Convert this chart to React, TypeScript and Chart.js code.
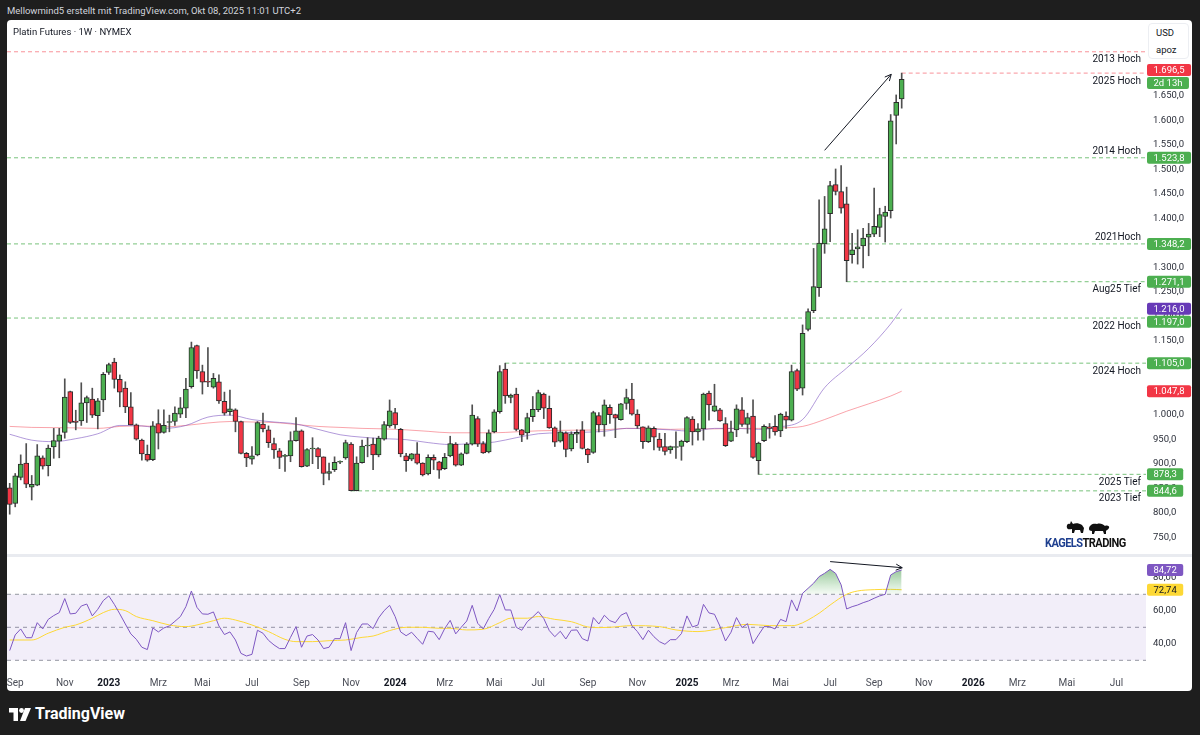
import React, { useEffect, useRef } from 'react';
import { Chart, registerables } from 'chart.js';

Chart.register(...registerables);

const FONT = 'Roboto, "Noto Sans", "Liberation Sans", sans-serif';
Chart.defaults.font.family = FONT;

// ---------- weekly candles (index 0 = week of 29 Aug 2022) ----------
const opens = [
  851, 819, 872, 901, 852, 856, 912, 896, 934, 946,
  964, 1047, 987, 987, 1024, 1032, 998, 1030, 1086, 1107,
  1072, 1054, 1016, 979, 948, 919, 908, 982, 964, 984,
  986, 1001, 1013, 1057, 1141, 1088, 1068, 1056, 1067, 1027,
  1006, 1010, 986, 921, 909, 918, 981, 969, 941, 926,
  915, 916, 947, 967, 895, 930, 931, 914, 880, 888,
  903, 912, 940, 845, 902, 936, 940, 918, 950, 977,
  1004, 970, 916, 909, 920, 901, 879, 913, 904, 890,
  916, 940, 897, 921, 940, 992, 941, 924, 965, 1006,
  1093, 1035, 1042, 969, 963, 996, 1010, 1042, 1013, 973,
  946, 963, 930, 960, 969, 930, 923, 998, 979, 1015,
  1000, 990, 1023, 1032, 1001, 975, 945, 972, 950, 935,
  928, 933, 935, 945, 991, 965, 971, 1044, 1007, 1010,
  982, 946, 969, 1010, 980, 997, 906, 947, 975, 976,
  967, 997, 989, 1090, 1054, 1174, 1212, 1259, 1348, 1410,
  1469, 1455, 1430, 1326, 1338, 1344, 1362, 1368, 1382, 1404,
  1416, 1610, 1644,
];
const highs = [
  860, 880, 918, 941, 876, 939, 916, 938, 972, 972,
  1073, 1048, 1009, 1065, 1038, 1054, 1033, 1086, 1105, 1115,
  1081, 1067, 1045, 981, 950, 938, 986, 1010, 1010, 999,
  1016, 1035, 1074, 1148, 1142, 1101, 1137, 1084, 1081, 1046,
  1050, 1012, 987, 923, 935, 986, 1003, 977, 952, 931,
  919, 965, 994, 969, 931, 953, 933, 914, 901, 914,
  906, 948, 943, 914, 948, 953, 952, 956, 986, 1030,
  1013, 972, 921, 921, 943, 902, 918, 918, 905, 921,
  956, 943, 922, 943, 1020, 996, 945, 969, 1010, 1100,
  1105, 1042, 1054, 970, 1003, 1037, 1050, 1044, 1038, 975,
  987, 965, 965, 969, 986, 931, 1007, 1004, 1030, 1020,
  1001, 1023, 1052, 1064, 1010, 975, 977, 975, 962, 962,
  936, 965, 948, 996, 996, 982, 1044, 1048, 1062, 1013,
  994, 987, 1020, 1035, 1003, 1030, 944, 979, 982, 998,
  1003, 1006, 1101, 1093, 1183, 1216, 1339, 1438, 1445, 1476,
  1501, 1508, 1464, 1370, 1377, 1380, 1390, 1462, 1421, 1425,
  1612, 1652, 1696.5,
];
const lows = [
  797, 812, 867, 851, 826, 855, 889, 875, 911, 912,
  952, 982, 969, 978, 984, 994, 971, 1006, 1082, 1054,
  1016, 1004, 979, 948, 907, 905, 906, 930, 962, 965,
  978, 994, 994, 1054, 1074, 1042, 1057, 1054, 1023, 999,
  999, 965, 920, 894, 899, 916, 965, 933, 911, 890,
  884, 904, 946, 893, 894, 900, 890, 857, 867, 884,
  900, 909, 844.6, 844.6, 901, 914, 888, 914, 948, 974,
  972, 914, 884, 906, 899, 875, 877, 888, 870, 888,
  914, 895, 896, 920, 938, 935, 921, 922, 963, 1003,
  1023, 1024, 967, 945, 950, 986, 1006, 992, 972, 935,
  944, 914, 926, 943, 930, 902, 921, 965, 956, 982,
  953, 989, 1011, 999, 972, 931, 943, 928, 927, 918,
  921, 911, 907, 943, 938, 948, 948, 989, 1006, 986,
  935, 945, 955, 976, 962, 911, 878.3, 945, 952, 958,
  955, 972, 987, 1049, 1040, 1171, 1208, 1241, 1329, 1353,
  1448, 1411, 1271.1, 1309, 1307, 1299, 1324, 1363, 1363, 1352,
  1401, 1552, 1625,
];
const closes = [
  817, 875, 899, 858, 858, 916, 895, 932, 947, 959,
  1036, 984, 984, 1024, 1035, 999, 1028, 1082, 1102, 1072,
  1046, 1016, 979, 950, 920, 907, 977, 962, 978, 985,
  1003, 1014, 1052, 1137, 1089, 1066, 1066, 1074, 1028, 1003,
  1012, 986, 921, 912, 916, 984, 971, 943, 928, 913,
  916, 947, 967, 894, 929, 931, 914, 880, 884, 903,
  904, 943, 845, 901, 936, 937, 918, 952, 980, 1008,
  979, 920, 906, 920, 901, 877, 913, 907, 887, 913,
  941, 897, 920, 940, 999, 940, 922, 963, 1006, 1088,
  1038, 1040, 970, 958, 994, 1011, 1045, 1013, 973, 944,
  965, 929, 961, 964, 931, 918, 1004, 979, 1020, 1000,
  993, 1022, 1035, 1001, 977, 945, 973, 954, 933, 925,
  935, 934, 946, 994, 965, 971, 1042, 1020, 1018, 987,
  937, 965, 1012, 980, 994, 913, 942, 976, 972, 965,
  1001, 989, 1088, 1052, 1166, 1210, 1261, 1350, 1379, 1467,
  1455, 1421, 1314, 1336, 1342, 1360, 1368, 1384, 1408, 1413,
  1599, 1637, 1684,
];

// ---------- moving averages (sampled weeks) ----------
const maWeeks = [0, 4, 8, 12, 16, 20, 24, 28, 32, 36, 40, 44, 48, 52, 56, 60, 64, 68, 72, 76, 80, 84, 88, 92, 96, 100, 104, 108, 112, 116, 120, 124, 128, 132, 136, 140, 144, 148, 152, 156, 160, 162];
const maPurple = [960, 948, 945, 951, 961, 978, 977, 972, 978, 995, 999, 990, 985, 981, 970, 959, 954, 951, 949, 943, 939, 941, 944, 953, 961, 963, 964, 966, 972, 971, 969, 966, 972, 972, 970, 975, 990, 1055, 1095, 1135, 1185, 1216];
const maRed = [976, 974, 973.5, 973, 972, 976, 977, 975, 978, 983, 986, 985, 984, 980, 976, 974, 972, 971, 969, 966, 963, 963, 963, 965, 967, 968, 968.5, 969, 972, 972, 970, 971, 971, 972, 972, 973, 976, 990, 1007, 1022, 1038, 1047.8];

// ---------- RSI ----------
const rsiValues = [
  35.9, 45.4, 49.0, 43.7, 43.7, 52.8, 49.0, 54.8, 57.1, 58.9,
  67.4, 58.1, 58.5, 62.9, 64.1, 56.9, 60.9, 66.2, 69.0, 63.9,
  58.1, 52.0, 46.0, 42.7, 37.9, 36.5, 49.6, 47.2, 49.6, 50.8,
  53.6, 56.5, 62.5, 72.0, 62.1, 58.1, 57.9, 59.3, 50.8, 45.6,
  47.2, 42.3, 34.2, 32.6, 33.6, 48.2, 46.4, 42.1, 39.3, 37.1,
  37.1, 43.9, 50.4, 37.9, 44.7, 45.6, 42.3, 37.1, 37.9, 43.1,
  43.1, 52.8, 35.9, 46.8, 52.0, 52.0, 49.2, 55.7, 60.1, 63.3,
  56.5, 47.2, 44.9, 47.0, 43.3, 39.7, 47.6, 47.2, 42.5, 49.2,
  54.2, 46.0, 50.0, 53.8, 63.3, 52.4, 49.0, 55.3, 60.9, 69.8,
  60.5, 60.5, 50.0, 48.2, 53.4, 56.3, 59.5, 55.3, 48.0, 44.3,
  47.6, 42.9, 48.2, 48.4, 43.1, 41.7, 55.9, 52.0, 57.3, 54.0,
  52.8, 57.3, 58.9, 51.0, 47.4, 42.5, 48.2, 44.3, 41.3, 39.7,
  42.5, 42.5, 46.2, 56.9, 50.2, 51.4, 63.9, 58.7, 57.9, 50.6,
  41.7, 47.0, 55.9, 49.8, 52.2, 40.1, 45.4, 50.4, 50.4, 49.0,
  54.8, 53.4, 66.6, 59.9, 70.6, 73.6, 76.7, 80.7, 82.7, 85.1,
  82.7, 75.7, 61.1, 62.5, 63.5, 64.9, 66.0, 67.6, 69.0, 70.0,
  81.7, 83.7, 84.72,
];
const rsiMaWeeks = [0, 4, 7, 10, 12, 15, 17, 19, 21, 23, 26, 29, 32, 34, 37, 39, 41, 44, 47, 50, 52, 55, 58, 61, 64, 66, 69, 72, 75, 78, 80, 83, 86, 89, 91, 94, 96, 99, 102, 105, 107, 109, 113, 118, 121, 125, 130, 134, 138, 142, 143, 147, 149, 152, 154, 157, 160, 162];
const rsiMaValues = [42.3, 42.3, 46.4, 50, 51.4, 55.5, 58.9, 60.9, 60.1, 56.5, 54, 51.4, 50.4, 51.4, 54, 55.5, 54.4, 51.4, 47.4, 42.7, 41.3, 41.3, 41.9, 42.3, 43.9, 44.7, 48, 50, 50, 49.4, 49.4, 48.4, 48.8, 52.8, 55.5, 55.5, 56.5, 54.8, 53.4, 50.2, 49.8, 50, 51, 50.4, 48.4, 47.4, 49.8, 51.8, 51, 51, 51.4, 58.5, 63.5, 70, 72, 72.8, 73, 72.74];
const rsiLevels = [70, 50, 30];

// ---------- horizontal levels ----------
const levelNames = ['2013 Hoch', '2025 Hoch', '2014 Hoch', '2021Hoch', 'Aug25 Tief', '2022 Hoch', '2024 Hoch', '2025 Tief', '2023 Tief'];
const levelValues = [1740, 1696.5, 1523.8, 1348.2, 1271.1, 1197.0, 1105.0, 878.3, 844.6];
const levelStartWeek = [null, 162, null, null, 152, null, 90, 136, 62];
const levelTone = ['red', 'red', 'green', 'green', 'green', 'green', 'green', 'green', 'green'];
const levelLabelSide = ['below', 'below', 'above', 'above', 'below', 'below', 'below', 'below', 'below'];

// ---------- price scale tags ----------
const tagValues = [1696.5, 1523.8, 1348.2, 1271.1, 1216.0, 1197.0, 1105.0, 1047.8, 878.3, 844.6];
const tagColors = ['#f23645', '#4caf50', '#4caf50', '#4caf50', '#673ab7', '#4caf50', '#4caf50', '#f23645', '#4caf50', '#4caf50'];
const countdownText = '2d 13h';
const rsiTagValues = [84.72, 72.74];
const rsiTagColors = ['#7e57c2', '#fdd835'];
const rsiTagText = ['#ffffff', '#131722'];

// ---------- trend arrows ----------
const priceArrowWeeks = [148.0, 160.1];
const priceArrowValues = [1539, 1694];
const rsiArrowWeeks = [149.0, 162.1];
const rsiArrowValues = [89.8, 86.1];

// ---------- axes ----------
const priceTickValues = [750, 800, 850, 900, 950, 1000, 1050, 1100, 1150, 1200, 1250, 1300, 1350, 1400, 1450, 1500, 1550, 1600, 1650, 1700, 1750];
const rsiTickValues = [40, 60, 80];
const monthTickDates = ['2022-09-01', '2022-11-01', '2023-01-01', '2023-03-01', '2023-05-01', '2023-07-01', '2023-09-01', '2023-11-01', '2024-01-01', '2024-03-01', '2024-05-01', '2024-07-01', '2024-09-01', '2024-11-01', '2025-01-01', '2025-03-01', '2025-05-01', '2025-07-01', '2025-09-01', '2025-11-01', '2026-01-01', '2026-03-01', '2026-05-01', '2026-07-01'];
const monthTickLabels = ['Sep', 'Nov', '2023', 'Mrz', 'Mai', 'Jul', 'Sep', 'Nov', '2024', 'Mrz', 'Mai', 'Jul', 'Sep', 'Nov', '2025', 'Mrz', 'Mai', 'Jul', 'Sep', 'Nov', '2026', 'Mrz', 'Mai', 'Jul'];

const FIRST_BAR_UTC = Date.UTC(2022, 7, 29);
const WEEK_MS = 7 * 86400000;
const monthTickWeeks = monthTickDates.map((d) => Math.ceil((Date.parse(d + 'T00:00:00Z') - FIRST_BAR_UTC) / WEEK_MS));

const X_MIN = -0.49;
const X_MAX = 206.37;
const PRICE_MIN = 713.8;
const PRICE_MAX = 1800.7;
const RSI_MIN = 21.7;
const RSI_MAX = 93.8;

function fmtDE(v: number, d: number) {
  const s = v.toFixed(d);
  const parts = s.split('.');
  const intF = parts[0].replace(/\B(?=(\d{3})+(?!\d))/g, '.');
  return parts[1] ? intF + ',' + parts[1] : intF;
}

function roundRect(ctx: any, x: number, y: number, w: number, h: number, r: number) {
  ctx.beginPath();
  ctx.moveTo(x + r, y);
  ctx.lineTo(x + w - r, y);
  ctx.quadraticCurveTo(x + w, y, x + w, y + r);
  ctx.lineTo(x + w, y + h - r);
  ctx.quadraticCurveTo(x + w, y + h, x + w - r, y + h);
  ctx.lineTo(x + r, y + h);
  ctx.quadraticCurveTo(x, y + h, x, y + h - r);
  ctx.lineTo(x, y + r);
  ctx.quadraticCurveTo(x, y, x + r, y);
  ctx.closePath();
}

function drawArrowHead(ctx: any, x0: number, y0: number, x1: number, y1: number) {
  const a = Math.atan2(y1 - y0, x1 - x0);
  const len = 7;
  ctx.beginPath();
  ctx.moveTo(x1 - len * Math.cos(a - 0.45), y1 - len * Math.sin(a - 0.45));
  ctx.lineTo(x1, y1);
  ctx.lineTo(x1 - len * Math.cos(a + 0.45), y1 - len * Math.sin(a + 0.45));
  ctx.stroke();
}

function rsiGradient(c: any) {
  const ch = c.chart;
  const s = ch && ch.scales && ch.scales.yr;
  const fallback = 'rgba(76,175,80,0.3)';
  if (!s) return fallback;
  const top = s.getPixelForValue(86);
  const bot = s.getPixelForValue(70);
  if (!isFinite(top) || !isFinite(bot) || top === bot) return fallback;
  const g = ch.ctx.createLinearGradient(0, top, 0, bot);
  g.addColorStop(0, 'rgba(56,142,60,0.55)');
  g.addColorStop(1, 'rgba(76,175,80,0.05)');
  return g;
}

function zeroPadding(s: any) {
  s.paddingTop = 0;
  s.paddingBottom = 0;
  s.paddingLeft = 0;
  s.paddingRight = 0;
}

const overlayPlugin = {
  id: 'overlay',
  afterDraw(chart: any) {
    const { ctx, chartArea, scales } = chart;
    const y = scales.y;
    const yr = scales.yr;
    const x = scales.x;
    ctx.save();

    // pane separator
    ctx.fillStyle = '#e9ebf0';
    ctx.fillRect(0, y.bottom - 1, chart.width, 3);

    // arrowheads
    ctx.strokeStyle = '#131722';
    ctx.lineWidth = 1;
    drawArrowHead(ctx,
      x.getPixelForValue(priceArrowWeeks[0]), y.getPixelForValue(priceArrowValues[0]),
      x.getPixelForValue(priceArrowWeeks[1]), y.getPixelForValue(priceArrowValues[1]));
    drawArrowHead(ctx,
      x.getPixelForValue(rsiArrowWeeks[0]), yr.getPixelForValue(rsiArrowValues[0]),
      x.getPixelForValue(rsiArrowWeeks[1]), yr.getPixelForValue(rsiArrowValues[1]));

    // level texts
    ctx.font = `10px ${FONT}`;
    ctx.fillStyle = '#131722';
    ctx.textAlign = 'right';
    ctx.textBaseline = 'middle';
    levelNames.forEach((n, k) => {
      const py = y.getPixelForValue(levelValues[k]);
      const dy = levelLabelSide[k] === 'above' ? -6.5 : 8;
      ctx.fillText(n, chartArea.right - 5, py + dy);
    });

    // price tags
    ctx.font = `9.5px ${FONT}`;
    ctx.textAlign = 'left';
    const left = chartArea.right + 1;
    const h = 12;
    const tag = (top: number, text: string, bg: string, fg: string) => {
      const w = ctx.measureText(text).width + 13;
      ctx.fillStyle = bg;
      roundRect(ctx, left, top, w, h, 2);
      ctx.fill();
      ctx.fillStyle = fg;
      ctx.fillText(text, left + 6.5, top + h / 2 + 0.5);
      return top + h;
    };
    let prevBottom = -1e9;
    tagValues.forEach((v, k) => {
      const py = y.getPixelForValue(v);
      if (k === 0) {
        const b = tag(py - 9, fmtDE(v, 1), tagColors[k], '#ffffff');
        prevBottom = tag(b + 1, countdownText, '#4caf50', '#ffffff');
        return;
      }
      let top = py - h / 2;
      if (top < prevBottom) top = prevBottom + 1;
      prevBottom = tag(top, fmtDE(v, 1), tagColors[k], '#ffffff');
    });
    prevBottom = -1e9;
    rsiTagValues.forEach((v, k) => {
      const py = yr.getPixelForValue(v);
      let top = py - h / 2;
      if (top < prevBottom) top = prevBottom + 1;
      prevBottom = tag(top, fmtDE(v, 2), rsiTagColors[k], rsiTagText[k]);
    });

    ctx.restore();
  },
};

export default function App() {
  const ref = useRef<HTMLCanvasElement>(null);

  useEffect(() => {
    const canvas = ref.current;
    if (!canvas) return;

    const wickData = highs.map((hv, i) => ({ x: i, y: [lows[i], hv] }));
    const bodyData = opens.map((o, i) => ({ x: i, y: [o, closes[i]] }));
    const bodyColors = opens.map((o, i) => (closes[i] >= o ? '#4caf50' : '#f23645'));

    const levelDatasets = levelValues.map((v, k) => ({
      type: 'line',
      yAxisID: 'y',
      data: [
        { x: levelStartWeek[k] === null ? X_MIN : levelStartWeek[k], y: v },
        { x: X_MAX, y: v },
      ],
      borderColor: levelTone[k] === 'red' ? 'rgba(242,54,69,0.55)' : 'rgba(76,175,80,0.75)',
      borderWidth: 1,
      borderDash: [4, 3],
      pointRadius: 0,
      fill: false,
      order: 4,
    }));

    const rsiLevelDatasets = rsiLevels.map((v) => ({
      type: 'line',
      yAxisID: 'yr',
      data: [{ x: X_MIN, y: v }, { x: X_MAX, y: v }],
      borderColor: '#9598a1',
      borderWidth: 1,
      borderDash: [4, 4],
      pointRadius: 0,
      fill: false,
      order: 6,
    }));

    const datasets: any[] = [
      {
        type: 'bar',
        yAxisID: 'y',
        data: bodyData,
        backgroundColor: bodyColors,
        borderColor: '#2b2b2b',
        borderWidth: 1,
        borderSkipped: false,
        barThickness: 5,
        minBarLength: 1,
        grouped: false,
        order: 0,
      },
      {
        type: 'bar',
        yAxisID: 'y',
        data: wickData,
        backgroundColor: '#505050',
        borderWidth: 0,
        barThickness: 1,
        grouped: false,
        order: 1,
      },
      {
        type: 'line',
        yAxisID: 'y',
        data: maWeeks.map((w, k) => ({ x: w, y: maPurple[k] })),
        borderColor: 'rgba(126,87,194,0.6)',
        borderWidth: 1,
        pointRadius: 0,
        cubicInterpolationMode: 'monotone',
        fill: false,
        order: 2,
      },
      {
        type: 'line',
        yAxisID: 'y',
        data: maWeeks.map((w, k) => ({ x: w, y: maRed[k] })),
        borderColor: 'rgba(242,54,69,0.45)',
        borderWidth: 1,
        pointRadius: 0,
        cubicInterpolationMode: 'monotone',
        fill: false,
        order: 3,
      },
      ...levelDatasets,
      {
        type: 'line',
        yAxisID: 'y',
        data: priceArrowWeeks.map((w, k) => ({ x: w, y: priceArrowValues[k] })),
        borderColor: '#131722',
        borderWidth: 1,
        pointRadius: 0,
        fill: false,
        order: 0,
      },
      // RSI band 70 -> 30
      { ...rsiLevelDatasets[0], fill: '+1', backgroundColor: 'rgba(126,87,194,0.1)' },
      rsiLevelDatasets[2],
      rsiLevelDatasets[1],
      {
        type: 'line',
        yAxisID: 'yr',
        data: rsiMaWeeks.map((w, k) => ({ x: w, y: rsiMaValues[k] })),
        borderColor: '#fdd835',
        borderWidth: 1,
        pointRadius: 0,
        cubicInterpolationMode: 'monotone',
        fill: false,
        order: 3,
      },
      {
        type: 'line',
        yAxisID: 'yr',
        data: rsiValues.map((v, i) => ({ x: i, y: v })),
        borderColor: '#7e57c2',
        borderWidth: 1,
        pointRadius: 0,
        fill: { value: 70, below: 'rgba(0,0,0,0)' },
        backgroundColor: rsiGradient,
        order: 1,
      },
      {
        type: 'line',
        yAxisID: 'yr',
        data: rsiArrowWeeks.map((w, k) => ({ x: w, y: rsiArrowValues[k] })),
        borderColor: '#131722',
        borderWidth: 1,
        pointRadius: 0,
        fill: false,
        order: 0,
      },
    ];

    const chart = new Chart(canvas, {
      type: 'line',
      data: { datasets },
      options: {
        responsive: false,
        maintainAspectRatio: false,
        animation: false,
        events: [],
        layout: { padding: { top: 2, left: 0, right: 0, bottom: 0 } },
        plugins: { legend: { display: false }, tooltip: { enabled: false } },
        scales: {
          x: {
            type: 'linear',
            min: X_MIN,
            max: X_MAX,
            offset: false,
            grid: { display: false, drawTicks: false },
            border: { display: false },
            afterBuildTicks: (s: any) => {
              s.ticks = monthTickWeeks.map((v) => ({ value: v }));
            },
            afterFit: (s: any) => {
              s.height = 17;
              zeroPadding(s);
            },
            ticks: {
              autoSkip: false,
              maxRotation: 0,
              padding: 3,
              callback: (_v: any, i: number) => monthTickLabels[i],
              font: (c: any) => ({
                family: FONT,
                size: 10,
                weight: /^\d{4}$/.test(String(c.tick && c.tick.label)) ? 'bold' : 'normal',
              }),
              color: (c: any) => (/^\d{4}$/.test(String(c.tick && c.tick.label)) ? '#131722' : '#4a4d57'),
            },
          },
          y: {
            type: 'linear',
            position: 'right',
            stack: 'panes',
            stackWeight: 533,
            min: PRICE_MIN,
            max: PRICE_MAX,
            grid: { display: false, drawTicks: false },
            border: { display: false },
            afterBuildTicks: (s: any) => {
              s.ticks = priceTickValues.map((v) => ({ value: v }));
            },
            afterFit: (s: any) => {
              s.width = 46;
              zeroPadding(s);
            },
            ticks: {
              autoSkip: false,
              padding: 7,
              callback: (v: any) => fmtDE(Number(v), 1),
              font: { family: FONT, size: 9.5 },
              color: '#2a2e39',
            },
          },
          yr: {
            type: 'linear',
            position: 'right',
            stack: 'panes',
            stackWeight: 119,
            min: RSI_MIN,
            max: RSI_MAX,
            grid: { display: false, drawTicks: false },
            border: { display: false },
            afterBuildTicks: (s: any) => {
              s.ticks = rsiTickValues.map((v) => ({ value: v }));
            },
            afterFit: (s: any) => {
              s.width = 46;
              zeroPadding(s);
            },
            ticks: {
              autoSkip: false,
              padding: 7,
              callback: (v: any) => fmtDE(Number(v), 2),
              font: { family: FONT, size: 9.5 },
              color: '#2a2e39',
            },
          },
        },
      } as any,
      plugins: [overlayPlugin],
    } as any);

    return () => chart.destroy();
  }, []);

  return (
    <div
      style={{
        position: 'fixed',
        left: 0,
        top: 0,
        width: 1200,
        height: 735,
        background: '#1e1e1e',
        overflow: 'hidden',
        fontFamily: FONT,
      }}
    >
      <div style={{ position: 'absolute', left: 7, top: 5, fontSize: 9.5, lineHeight: '12px', color: '#d1d4dc', whiteSpace: 'nowrap' }}>
        Mellowmind5 erstellt mit TradingView.com, Okt 08, 2025 11:01 UTC+2
      </div>
      <div
        style={{
          position: 'absolute',
          left: 7,
          top: 20,
          width: 1185,
          height: 671,
          background: '#ffffff',
          borderRadius: 4,
          overflow: 'hidden',
        }}
      >
        <canvas ref={ref} width={1185} height={671} style={{ display: 'block', width: 1185, height: 671 }} />
        <div style={{ position: 'absolute', left: 6, top: 5, fontSize: 9.5, lineHeight: '13px', color: '#131722', whiteSpace: 'nowrap' }}>
          Platin Futures · 1W · NYMEX
        </div>
        <div
          style={{
            position: 'absolute',
            left: 1141,
            top: 3,
            width: 41,
            height: 36,
            background: '#ffffff',
            border: '1px solid #eceef2',
            borderRadius: 4,
            boxSizing: 'border-box',
            fontSize: 9.5,
            color: '#131722',
          }}
        >
          <div style={{ position: 'absolute', left: 7, top: 3, lineHeight: '12px' }}>USD</div>
          <div style={{ position: 'absolute', left: 7, top: 20, lineHeight: '12px' }}>apoz</div>
        </div>
        <div style={{ position: 'absolute', left: 1058, top: 499 }}>
          <svg width="48" height="16" viewBox="0 0 48 16">
            <path d="M2 9 C1 6 3 4 5 5 L6 2 L8 5 C10 4 14 4 17 6 L19 9 L18 14 L16 14 L15 11 L10 11 L9 14 L7 14 L7 10 C5 10 3 11 2 9Z" fill="#111" />
            <path d="M24 10 C24 6 28 4 32 5 C35 4 38 5 40 7 C42 6 45 7 44 9 C43 11 41 11 41 12 L41 15 L39 15 L38 12 L30 12 L29 15 L27 15 L27 12 C25 12 24 11 24 10Z" fill="#111" />
          </svg>
        </div>
        <div
          style={{
            position: 'absolute',
            left: 1038,
            top: 516,
            fontSize: 12,
            fontWeight: 'bold',
            letterSpacing: -0.6,
            lineHeight: '14px',
            whiteSpace: 'nowrap',
            transform: 'scaleX(0.92)',
            transformOrigin: 'left top',
          }}
        >
          <span style={{ color: '#1e3f8f' }}>KAGELS</span>
          <span style={{ color: '#111111' }}>TRADING</span>
        </div>
      </div>
      <div style={{ position: 'absolute', left: 9, top: 706, display: 'flex', alignItems: 'center' }}>
        <svg width="22" height="13" viewBox="0 0 22 13">
          <path d="M0 0 H9 V13 H4.5 V4.5 H0 Z" fill="#ffffff" />
          <circle cx="12.5" cy="2.5" r="2.4" fill="#ffffff" />
          <path d="M16 0 H22 L16.5 13 H11 Z" fill="#ffffff" />
        </svg>
        <span style={{ color: '#ffffff', fontSize: 16, fontWeight: 'bold', marginLeft: 4, lineHeight: '16px' }}>TradingView</span>
      </div>
    </div>
  );
}
